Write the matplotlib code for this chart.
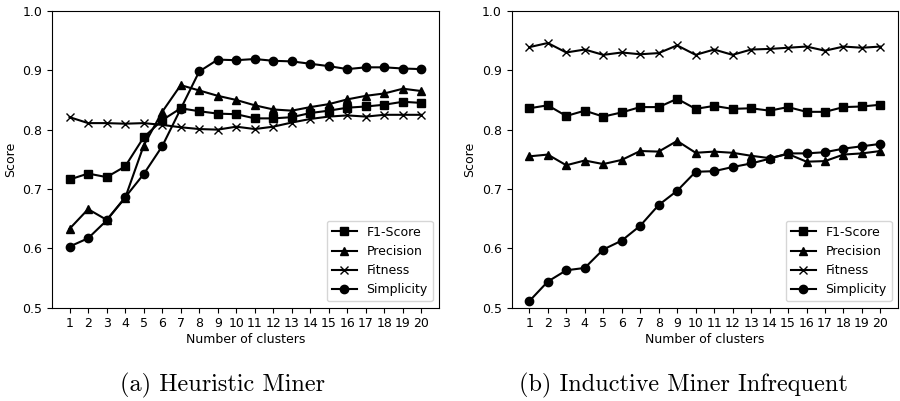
import matplotlib
matplotlib.use("Agg")
import matplotlib.pyplot as plt

clusters = list(range(1, 21))

# (a) Heuristic Miner
hm_f1 = [0.716, 0.726, 0.720, 0.738, 0.787, 0.816, 0.836, 0.831, 0.827, 0.826,
         0.819, 0.819, 0.821, 0.828, 0.832, 0.837, 0.839, 0.842, 0.847, 0.845]
hm_precision = [0.633, 0.666, 0.648, 0.685, 0.773, 0.830, 0.875, 0.866, 0.857, 0.850,
                0.841, 0.834, 0.832, 0.838, 0.843, 0.851, 0.857, 0.861, 0.869, 0.865]
hm_fitness = [0.821, 0.811, 0.811, 0.810, 0.811, 0.808, 0.804, 0.801, 0.800, 0.805,
              0.801, 0.805, 0.812, 0.818, 0.822, 0.824, 0.822, 0.825, 0.825, 0.825]
hm_simplicity = [0.603, 0.617, 0.647, 0.686, 0.725, 0.772, 0.835, 0.898, 0.918, 0.917,
                 0.919, 0.916, 0.915, 0.911, 0.907, 0.902, 0.905, 0.905, 0.903, 0.902]

# (b) Inductive Miner Infrequent
im_f1 = [0.836, 0.841, 0.823, 0.832, 0.822, 0.829, 0.838, 0.838, 0.852, 0.835,
         0.840, 0.835, 0.836, 0.832, 0.838, 0.830, 0.830, 0.838, 0.839, 0.842]
im_precision = [0.755, 0.758, 0.740, 0.748, 0.742, 0.749, 0.764, 0.763, 0.781, 0.761,
                0.763, 0.761, 0.756, 0.752, 0.759, 0.746, 0.747, 0.758, 0.760, 0.764]
im_fitness = [0.939, 0.946, 0.930, 0.935, 0.926, 0.930, 0.927, 0.929, 0.942, 0.926,
              0.935, 0.926, 0.935, 0.936, 0.938, 0.940, 0.933, 0.940, 0.938, 0.940]
im_simplicity = [0.511, 0.544, 0.563, 0.567, 0.598, 0.613, 0.638, 0.673, 0.697, 0.729,
                 0.730, 0.737, 0.743, 0.751, 0.760, 0.760, 0.762, 0.768, 0.772, 0.776]

series_names = ["F1-Score", "Precision", "Fitness", "Simplicity"]
markers = ["s", "^", "x", "o"]
titles = ["(a) Heuristic Miner", "(b) Inductive Miner Infrequent"]

panels = [
    [hm_f1, hm_precision, hm_fitness, hm_simplicity],
    [im_f1, im_precision, im_fitness, im_simplicity],
]

fig = plt.figure(figsize=(9, 4.01), dpi=100)
axes_rects = [[0.0578, 0.2327, 0.4300, 0.7400],
              [0.5686, 0.2327, 0.4292, 0.7400]]
title_x = [222 / 900, 683 / 900]

for i, (rect, data) in enumerate(zip(axes_rects, panels)):
    ax = fig.add_axes(rect)
    for name, mk, vals in zip(series_names, markers, data):
        ax.plot(clusters, vals, color="black", marker=mk, markersize=6,
                linewidth=1.5, label=name)
    ax.set_ylim(0.5, 1.0)
    ax.set_xticks(clusters)
    ax.set_yticks([0.5, 0.6, 0.7, 0.8, 0.9, 1.0])
    ax.tick_params(labelsize=9)
    ax.set_xlabel("Number of clusters", fontsize=9, labelpad=2)
    ax.set_ylabel("Score", fontsize=9)
    ax.legend(loc="lower right", fontsize=9)
    fig.text(title_x[i], 1 - 385 / 401, titles[i], ha="center", va="center",
             fontsize=17.5, family="cmr10")

fig.savefig("out.png", dpi=100)
